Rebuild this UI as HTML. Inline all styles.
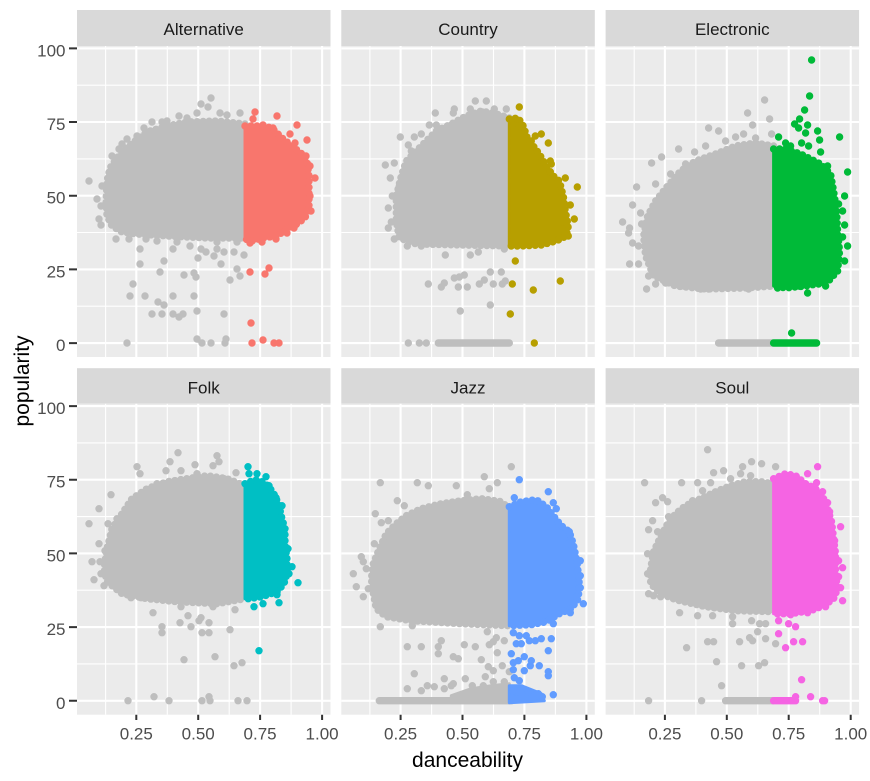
<!DOCTYPE html>
<html>
<head>
<meta charset="utf-8">
<style>
html,body{margin:0;padding:0;background:#fff;}
svg{display:block;}
text{font-family:"Liberation Sans",Arial,sans-serif;}
.b{stroke-linejoin:round;stroke-width:3;}
.bd{fill:none;stroke-linecap:round;stroke-width:7.4;stroke-dasharray:0 6;}
.p{fill:none;stroke-linecap:round;stroke-linejoin:round;stroke-width:7.4;}
.gy{fill:#BEBEBE;stroke:#BEBEBE;}
.gyp{stroke:#BEBEBE;}
.mj{stroke:#fff;stroke-width:2.1;}
.mn{stroke:#fff;stroke-width:1.1;}
.tk{stroke:#333;stroke-width:2;}
.ax{font-size:17px;fill:#4D4D4D;}
.st{font-size:17px;fill:#1A1A1A;}
</style>
</head>
<body>
<svg width="870" height="781" viewBox="0 0 870 781" xmlns="http://www.w3.org/2000/svg">
<rect x="0" y="0" width="870" height="781" fill="#fff"/>
<defs>
<g id="grid">
<rect x="0" y="0" width="253.5" height="311" fill="#EBEBEB"/>
<path class="mn" d="M28.6 0V311M90.3 0V311M152.2 0V311M214.1 0V311M0 39.2H253.5M0 112.9H253.5M0 186.5H253.5M0 260.2H253.5"/>
<path class="mj" d="M59.3 0V311M121.2 0V311M183.1 0V311M245.1 0V311M0 2.4H253.5M0 76H253.5M0 149.7H253.5M0 223.4H253.5M0 297.1H253.5"/>
</g>
</defs>

<!-- strips -->
<rect x="77" y="10" width="253.5" height="36" fill="#D9D9D9"/>
<rect x="341.3" y="10" width="253.5" height="36" fill="#D9D9D9"/>
<rect x="605.6" y="10" width="253.5" height="36" fill="#D9D9D9"/>
<rect x="77" y="368.2" width="253.5" height="35.5" fill="#D9D9D9"/>
<rect x="341.3" y="368.2" width="253.5" height="35.5" fill="#D9D9D9"/>
<rect x="605.6" y="368.2" width="253.5" height="35.5" fill="#D9D9D9"/>
<text class="st" x="203.7" y="35" text-anchor="middle">Alternative</text>
<text class="st" x="468" y="35" text-anchor="middle">Country</text>
<text class="st" x="732.3" y="35" text-anchor="middle">Electronic</text>
<text class="st" x="203.7" y="393.5" text-anchor="middle">Folk</text>
<text class="st" x="468" y="393.5" text-anchor="middle">Jazz</text>
<text class="st" x="732.3" y="393.5" text-anchor="middle">Soul</text>

<!-- Panel 1: Alternative -->
<g transform="translate(77,46)">
<use href="#grid"/>
<path class="b gy" d="M168 78L140 75L110 76L90 80L70 86L58 95L48 103L40 112L33 122L30 135L29 155L30 170L35 180L45 186L60 188L90 190L130 192L168 192Z"/>
<path class="bd gyp" d="M168 78L140 75L110 76L90 80L70 86L58 95L48 103L40 112L33 122L30 135L29 155L30 170L35 180L45 186L60 188L90 190L130 192L168 192"/>
<path class="p gyp" d="M134 52h0M124 58h0M131 61h0M120 67h0M143 67h0M150 69h0M163 67h0M75 76h0M85 76h0M102 70h0M67 82h0M50 93h0M42 103h0M12 135h0M20 153h0M22 173h0M24 179h0M39 193h0M52 193h0M63 203h0M69 193h0M96 203h0M63 218h0M87 215h0M83 226h0M107 229h0M117 227h0M119 231h0M113 200h0M124 203h0M129 206h0M121 212h0M140 203h0M137 210h0M147 206h0M157 206h0M167 209h0M144 218h0M160 223h0M163 230h0M153 234h0M56 238h0M53 250h0M68 250h0M96 250h0M117 250h0M81 256h0M87 259h0M75 268h0M85 268h0M96 268h0M106 268h0M102 271h0M120 265h0M147 268h0M50 297h0M120 293h0M125 297h0M134 297h0M148 297h0M149 293h0M80 195h0M100 196h0M140 196h0M160 196h0M35 110h0M45 98h0M60 90h0M25 140h0M24 160h0M110 72h0M90 75h0"/>
<path class="b" fill="#F8766D" stroke="#F8766D" d="M168 80L185 80L195 82L205 92L215 100L225 108L230 115L232 130L232 160L228 172L220 178L210 183L200 190L185 192L175 195L168 193Z"/>
<path class="bd" stroke="#F8766D" d="M168 80L185 80L195 82L205 92L215 100L225 108L230 115L232 130L232 160L228 172L220 178L210 183L200 190L185 192L175 195L168 193"/>
<path class="p" stroke="#F8766D" d="M178 66h0M176 73h0M200 70h0M220 79h0M186 79h0M196 82h0M213 88h0M230 94h0M218 97h0M203 92h0M211 99h0M229 110h0M233 120h0M238 132h0M231 143h0M173 197h0M199 193h0M217 182h0M173 226h0M188 228h0M192 222h0M174 277h0M175 297h0M186 294h0M197 297h0M202 297h0M233 150h0M234 165h0M185 196h0M210 187h0"/>
</g>

<!-- Panel 2: Country -->
<g transform="translate(341.3,46)">
<use href="#grid"/>
<path class="b gy" d="M168 72L155 68L140 65L125 70L110 78L95 85L85 95L75 105L65 115L60 130L55 150L55 175L58 192L75 198L168 200Z"/>
<path class="bd gyp" d="M168 72L155 68L140 65L125 70L110 78L95 85L85 95L75 105L65 115L60 130L55 150L55 175L58 192L75 198L168 200"/>
<path class="p gyp" d="M134 55h0M145 55h0M94 67h0M113 63h0M112 67h0M129 63h0M141 66h0M153 63h0M165 63h0M88 79h0M95 79h0M110 79h0M59 91h0M73 91h0M67 99h0M44 119h0M53 117h0M49 132h0M51 150h0M47 162h0M50 176h0M47 182h0M53 193h0M66 200h0M80 200h0M104 209h0M129 209h0M137 206h0M163 203h0M87 238h0M100 241h0M103 237h0M113 232h0M117 241h0M126 241h0M123 229h0M118 231h0M138 238h0M143 234h0M152 238h0M149 226h0M160 226h0M161 238h0M164 235h0M149 259h0M119 265h0M169 268h0M67 297h0M78 297h0M85 297h0M97 297H168M80 88h0M70 105h0M58 140h0"/>
<path class="b" fill="#B79F00" stroke="#B79F00" d="M168 73L177 72L182 80L186 92L192 100L198 108L205 120L212 130L218 135L222 150L224 165L227 180L225 190L215 195L200 199L180 200L168 200Z"/>
<path class="bd" stroke="#B79F00" d="M168 73L177 72L182 80L186 92L192 100L198 108L205 120L212 130L218 135L222 150L224 165L227 180L225 190L215 195L200 199L180 200L168 200"/>
<path class="p" stroke="#B79F00" d="M178 61h0M194 90h0M200 88h0M207 97h0M209 115h0M210 118h0M224 132h0M236 141h0M229 159h0M233 173h0M221 183h0M227 190h0M174 215h0M171 238h0M192 244h0M219 235h0M169 268h0M193 297h0M178 80h0M190 95h0"/>
</g>

<!-- Panel 3: Electronic -->
<g transform="translate(605.6,46)">
<use href="#grid"/>
<path class="b gy" d="M168 100L150 97L130 100L110 108L90 115L75 125L62 140L50 155L42 170L38 190L40 210L48 230L70 240L100 243L140 242L168 240Z"/>
<path class="bd gyp" d="M168 100L150 97L130 100L110 108L90 115L75 125L62 140L50 155L42 170L38 190L40 210L48 230L70 240L100 243L140 242L168 240"/>
<path class="p gyp" d="M159 54h0M142 67h0M164 73h0M147 79h0M103 82h0M113 85h0M138 88h0M130 91h0M150 92h0M166 88h0M73 103h0M89 106h0M56 111h0M46 117h0M31 141h0M50 138h0M27 159h0M35 167h0M17 176h0M24 182h0M23 187h0M27 197h0M24 218h0M33 218h0M43 230h0M41 243h0M50 238h0M60 237h0M78 240h0M95 243h0M103 243h0M143 243h0M128 240h0M113 297H167M120 95h0M100 100h0M80 118h0M65 128h0M33 200h0M36 178h0"/>
<path class="b" fill="#00BA38" stroke="#00BA38" d="M168 103L180 103L195 108L205 113L215 118L225 128L228 145L231 165L232 185L234 205L232 225L222 236L200 240L180 242L168 240Z"/>
<path class="bd" stroke="#00BA38" d="M168 103L180 103L195 108L205 113L215 118L225 128L228 145L231 165L232 185L234 205L232 225L222 236L200 240L180 242L168 240"/>
<path class="p" stroke="#00BA38" d="M206 14h0M204 50h0M199 64h0M194 73h0M189 78h0M193 82h0M202 79h0M200 87h0M212 85h0M214 94h0M234 91h0M196 97h0M203 100h0M173 91h0M180 97h0M215 106h0M242 126h0M239 150h0M233 158h0M237 165h0M239 179h0M237 191h0M242 200h0M239 215h0M230 210h0M202 247h0M220 240h0M213 238h0M193 240h0M172 242h0M186 287h0M168 297H211M222 120h0M185 100h0"/>
</g>

<!-- Panel 4: Folk -->
<g transform="translate(77,403.7)">
<use href="#grid"/>
<path class="b gy" d="M168 82L150 75L130 72L110 75L90 78L70 85L55 95L45 110L35 125L30 145L27 165L30 178L45 190L70 195L100 198L140 200L168 195Z"/>
<path class="bd gyp" d="M168 82L150 75L130 72L110 75L90 78L70 85L55 95L45 110L35 125L30 145L27 165L30 178L45 190L70 195L100 198L140 200L168 195"/>
<path class="p gyp" d="M101 49h0M93 58h0M60 63h0M63 70h0M89 67h0M104 67h0M118 61h0M140 52h0M142 58h0M136 62h0M147 75h0M159 69h0M34 91h0M22 105h0M12 120h0M31 120h0M28 147h0M15 158h0M23 158h0M17 176h0M27 182h0M54 194h0M64 194h0M76 209h0M104 203h0M111 212h0M124 214h0M136 203h0M158 206h0M85 223h0M85 229h0M103 219h0M114 223h0M122 217h0M132 219h0M125 229h0M132 229h0M153 226h0M107 256h0M138 253h0M157 262h0M165 259h0M51 297h0M77 293h0M92 297h0M125 297h0M132 293h0M133 297h0M161 297h0M170 297h0M80 80h0M120 70h0M40 115h0M24 170h0M22 140h0"/>
<path class="b" fill="#00BFC4" stroke="#00BFC4" d="M168 80L178 76L185 78L192 83L198 92L202 102L205 115L208 125L208 140L210 155L210 170L207 180L200 188L185 193L172 195L168 195Z"/>
<path class="bd" stroke="#00BFC4" d="M168 80L178 76L185 78L192 83L198 92L202 102L205 115L208 125L208 140L210 155L210 170L207 180L200 188L185 193L172 195L168 195"/>
<path class="p" stroke="#00BFC4" d="M171 63h0M172 70h0M180 70h0M189 73h0M192 82h0M199 94h0M205 102h0M207 127h0M215 163h0M221 179h0M177 203h0M186 200h0M202 199h0M200 191h0M182 247h0M211 145h0M212 170h0"/>
</g>

<!-- Panel 5: Jazz -->
<g transform="translate(341.3,403.7)">
<use href="#grid"/>
<path class="b gy" d="M168 105L160 98L140 95L120 97L100 100L80 105L65 112L55 120L45 130L38 145L32 160L30 175L32 190L35 205L45 213L70 217L120 220L168 222Z"/>
<path class="bd gyp" d="M168 105L160 98L140 95L120 97L100 100L80 105L65 112L55 120L45 130L38 145L32 160L30 175L32 190L35 205L45 213L70 217L120 220L168 222"/>
<path class="b gy" d="M110 292L130 285L150 282L168 280L168 299L110 299Z"/>
<path class="p gyp" d="M170 63h0M143 73h0M156 79h0M148 85h0M39 79h0M76 79h0M87 82h0M115 82h0M126 91h0M56 97h0M63 102h0M34 110h0M40 119h0M47 117h0M33 140h0M20 153h0M22 158h0M12 170h0M15 183h0M22 193h0M39 223h0M71 222h0M94 218h0M146 228h0M155 234h0M152 238h0M163 237h0M66 243h0M80 243h0M97 243h0M100 237h0M97 250h0M112 253h0M117 255h0M123 241h0M134 243h0M148 241h0M156 249h0M140 256h0M147 263h0M152 267h0M161 262h0M168 268h0M73 270h0M124 275h0M103 275h0M112 280h0M144 273h0M66 285h0M80 287h0M86 282h0M93 283h0M103 285h0M110 282h0M131 282h0M142 282h0M152 278h0M163 278h0M38 297H170M25 165h0M27 185h0"/>
<path class="b" fill="#619CFF" stroke="#619CFF" d="M168 103L180 98L195 96L205 103L212 112L220 122L228 128L232 140L236 160L238 180L237 195L230 205L218 210L205 218L190 221L168 222Z"/>
<path class="bd" stroke="#619CFF" d="M168 103L180 98L195 96L205 103L212 112L220 122L228 128L232 140L236 160L238 180L237 195L230 205L218 210L205 218L190 221L168 222"/>
<path class="b" fill="#619CFF" stroke="#619CFF" d="M168 282L180 282L190 286L200 290L203 297L168 299Z"/>
<path class="p" stroke="#619CFF" d="M178 76h0M207 88h0M173 94h0M212 99h0M215 105h0M213 114h0M228 128h0M227 140h0M239 157h0M239 172h0M239 184h0M242 200h0M235 193h0M229 209h0M212 220h0M172 229h0M178 232h0M175 240h0M180 240h0M188 237h0M194 237h0M200 235h0M210 235h0M207 247h0M172 259h0M177 257h0M183 253h0M190 257h0M189 262h0M173 274h0M178 277h0M183 267h0M198 262h0M207 268h0M207 272h0M172 287h0M187 288h0M197 290h0M201 293h0M212 291h0M175 295h0M170 250h0M172 266h0M185 232h0"/>
</g>

<!-- Panel 6: Soul -->
<g transform="translate(605.6,403.7)">
<use href="#grid"/>
<path class="b gy" d="M168 80L155 78L140 78L125 82L110 88L95 95L80 102L70 110L62 120L55 133L48 148L45 165L45 180L55 190L70 196L100 203L130 207L168 208Z"/>
<path class="bd gyp" d="M168 80L155 78L140 78L125 82L110 88L95 95L80 102L70 110L62 120L55 133L48 148L45 165L45 180L55 190L70 196L100 203L130 207L168 208"/>
<path class="p gyp" d="M102 46h0M39 79h0M76 79h0M92 79h0M105 79h0M50 99h0M57 94h0M62 98h0M47 117h0M43 126h0M52 128h0M63 113h0M87 97h0M97 87h0M108 69h0M118 67h0M137 63h0M146 58h0M156 60h0M135 70h0M170 63h0M43 190h0M48 192h0M55 193h0M74 209h0M92 212h0M107 212h0M127 213h0M146 217h0M154 220h0M160 220h0M127 220h0M152 228h0M147 237h0M160 235h0M144 234h0M170 240h0M81 244h0M102 238h0M108 238h0M134 238h0M111 258h0M136 262h0M153 262h0M159 259h0M116 282h0M43 297h0M96 297h0M120 297H167M125 75h0M145 72h0M42 150h0M42 170h0"/>
<path class="b" fill="#F564E3" stroke="#F564E3" d="M168 75L180 70L190 72L200 80L210 85L218 95L222 105L226 118L228 135L230 150L230 170L232 185L228 195L218 202L205 207L185 210L168 210Z"/>
<path class="bd" stroke="#F564E3" d="M168 75L180 70L190 72L200 80L210 85L218 95L222 105L226 118L228 135L230 150L230 170L232 185L228 195L218 202L205 207L185 210L168 210"/>
<path class="p" stroke="#F564E3" d="M212 63h0M202 70h0M211 79h0M217 88h0M222 99h0M224 108h0M235 123h0M229 137h0M229 149h0M233 157h0M237 164h0M233 173h0M235 184h0M237 197h0M220 203h0M173 217h0M173 230h0M183 220h0M190 223h0M180 244h0M188 238h0M197 238h0M175 208h0M185 211h0M202 209h0M196 276h0M205 293h0M217 297h0M219 297h0M190 293h0M168 297H190"/>
</g>

<!-- y axis ticks & labels -->
<path class="tk" d="M69 48.4H77M69 122H77M69 195.7H77M69 269.4H77M69 343.1H77M69 406.1H77M69 479.7H77M69 553.4H77M69 627.1H77M69 700.8H77"/>
<g class="ax" text-anchor="end">
<text x="65.5" y="56.4">100</text>
<text x="65.5" y="130">75</text>
<text x="65.5" y="203.7">50</text>
<text x="65.5" y="277.4">25</text>
<text x="65.5" y="351.1">0</text>
<text x="65.5" y="414.1">100</text>
<text x="65.5" y="487.7">75</text>
<text x="65.5" y="561.4">50</text>
<text x="65.5" y="635.1">25</text>
<text x="65.5" y="708.8">0</text>
</g>

<!-- x axis ticks & labels -->
<path class="tk" d="M136.3 714.7V720M198.2 714.7V720M260.1 714.7V720M322.1 714.7V720M400.6 714.7V720M462.5 714.7V720M524.4 714.7V720M586.4 714.7V720M664.9 714.7V720M726.8 714.7V720M788.7 714.7V720M850.7 714.7V720"/>
<g class="ax" text-anchor="middle">
<text x="136.3" y="739.5">0.25</text>
<text x="198.2" y="739.5">0.50</text>
<text x="260.1" y="739.5">0.75</text>
<text x="322.1" y="739.5">1.00</text>
<text x="400.6" y="739.5">0.25</text>
<text x="462.5" y="739.5">0.50</text>
<text x="524.4" y="739.5">0.75</text>
<text x="586.4" y="739.5">1.00</text>
<text x="664.9" y="739.5">0.25</text>
<text x="726.8" y="739.5">0.50</text>
<text x="788.7" y="739.5">0.75</text>
<text x="850.7" y="739.5">1.00</text>
</g>

<!-- axis titles -->
<text x="467.5" y="767" text-anchor="middle" font-size="21" fill="#000">danceability</text>
<text transform="translate(29,381) rotate(-90)" x="0" y="0" text-anchor="middle" font-size="21" fill="#000">popularity</text>
</svg>
</body>
</html>
